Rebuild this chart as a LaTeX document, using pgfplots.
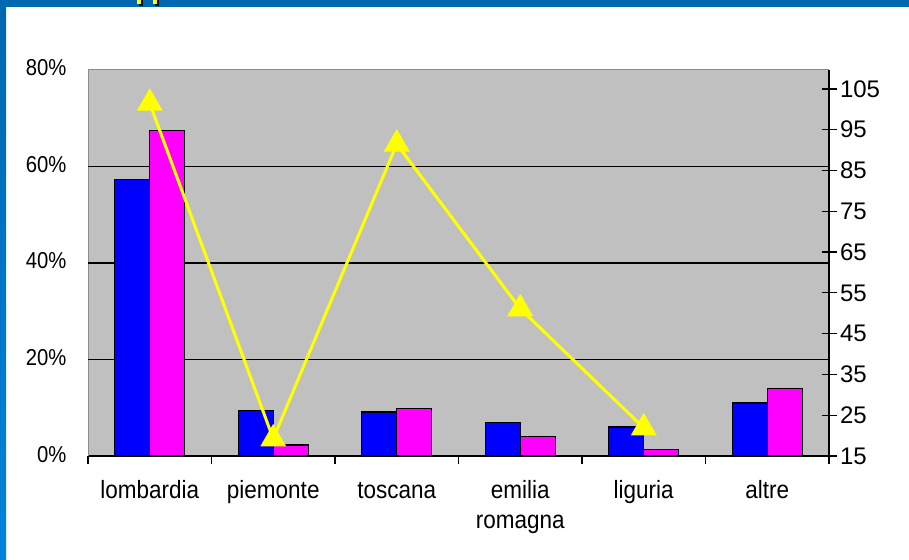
\documentclass[border=0pt]{standalone}
\usepackage{fontspec}
\setmainfont{Liberation Sans}
\newfontfamily\lblfont[FakeStretch=0.88]{Liberation Sans}
\newfontfamily\catfont[FakeStretch=0.9]{Liberation Sans}
\usepackage{pgfplots}
\pgfplotsset{compat=1.18}
\definecolor{frameblue}{HTML}{0067B1}
\definecolor{framelight}{HTML}{0082DC}
\definecolor{plotgray}{HTML}{C0C0C0}
\definecolor{bordergray}{HTML}{8C8C8C}
\definecolor{barblue}{HTML}{0000FF}
\definecolor{barmag}{HTML}{FF00FF}
\definecolor{lineyellow}{HTML}{FFFF00}
\newcommand\lbl{\lblfont\fontsize{23}{30}\selectfont}
\newcommand\cat{\catfont\fontsize{25}{30}\selectfont}
\newcommand\rlbl{\fontsize{24}{30}\selectfont}
\begin{document}
\begin{tikzpicture}
\useasboundingbox (0pt,0pt) rectangle (909pt,559pt);
\fill[white] (0pt,0pt) rectangle (909pt,559pt);
% slide frame
\fill[frameblue] (0pt,552pt) rectangle (909pt,559pt);
\shade[top color=frameblue, bottom color=framelight] (0pt,0pt) rectangle (6pt,552pt);
\fill[black] (139pt,553pt) rectangle (143pt,559pt);
\fill[lineyellow] (137pt,555pt) rectangle (141pt,559pt);
\fill[black] (155pt,553pt) rectangle (159pt,559pt);
\fill[lineyellow] (153pt,555pt) rectangle (157pt,559pt);

% bars, left axis
\begin{axis}[
  at={(88pt,103pt)}, anchor=south west,
  scale only axis, width=741pt, height=386pt,
  xmin=-0.5, xmax=5.5, ymin=0, ymax=80,
  axis background/.style={fill=plotgray},
  axis x line*=bottom, axis y line*=left,
  x axis line style={black, line width=1.2pt, -},
  y axis line style={bordergray, line width=1pt, -},
  ybar=0pt, bar width=35pt,
  xtick={-0.5,0.5,...,5.5},
  x tick label as interval,
  xticklabels={lombardia,piemonte,toscana,{emilia\\romagna},liguria,altre},
  typeset ticklabels with strut,
  xticklabel style={align=center, font=\cat, yshift=-10pt},
  x tick style={black, line width=1.2pt},
  tick align=outside, major tick length=8pt,
  ytick={0,20,40,60,80},
  yticklabels={0\%,20\%,40\%,60\%,80\%},
  yticklabel style={font=\lbl, xshift=-10pt},
  y tick style={draw=none},
  extra y ticks={20,40,60},
  extra y tick labels={},
  extra y tick style={grid=major, major grid style={black, line width=1.5pt}},
  clip=false,
]
\draw[bordergray, line width=1pt] (rel axis cs:0,1) -- (rel axis cs:1,1);
\addplot[fill=barblue, draw=black, line width=1.2pt] coordinates {
  (0,57.3) (1,9.5) (2,9.1) (3,6.9) (4,6.0) (5,11.0)};
\addplot[fill=barmag, draw=black, line width=1.2pt] coordinates {
  (0,67.4) (1,2.3) (2,9.9) (3,4.1) (4,1.4) (5,14.0)};
\end{axis}

% line, right axis
\begin{axis}[
  at={(88pt,103pt)}, anchor=south west,
  scale only axis, width=741pt, height=386pt,
  xmin=-0.5, xmax=5.5, ymin=15, ymax=109.65,
  axis x line=none, axis y line*=right,
  y axis line style={black, line width=1.2pt, -},
  ytick={15,25,...,105},
  tick align=center, major tick length=15pt,
  y tick style={black, line width=1.2pt},
  yticklabel style={font=\rlbl, /pgf/number format/assume math mode=true},
  clip=false,
]
\addplot[lineyellow, line width=3pt, mark=triangle*,
  mark size=12pt, mark options={solid, fill=lineyellow}] coordinates {
  (0,101.5) (1,19.2) (2,91.5) (3,51.1) (4,21.9)};
\end{axis}
\end{tikzpicture}
\end{document}
